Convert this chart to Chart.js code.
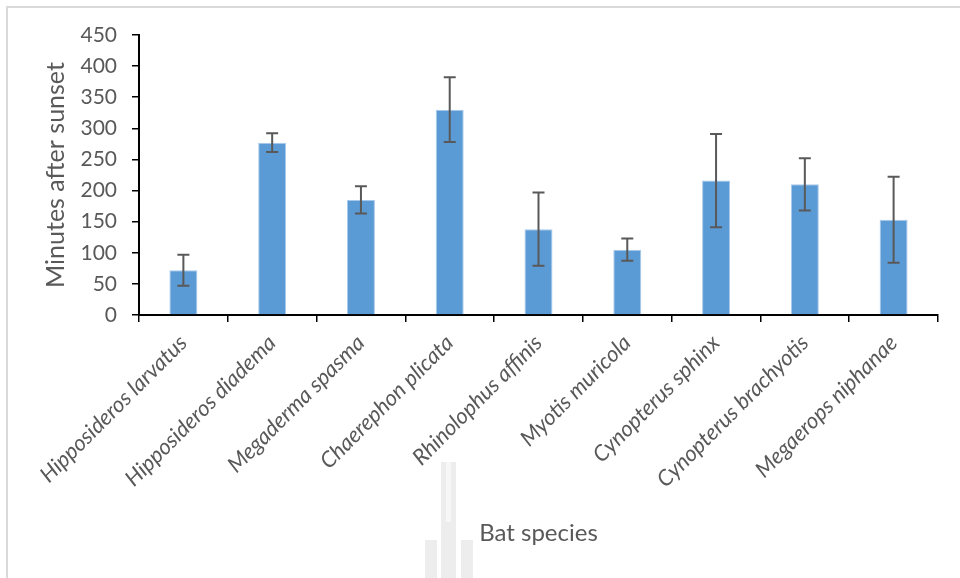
<!DOCTYPE html>
<html>
<head>
<meta charset="utf-8">
<script src="https://cdn.jsdelivr.net/npm/chart.js@4"></script>
<style>
  html, body { margin: 0; padding: 0; background: #fff; }
  #wrap { position: relative; width: 960px; height: 578px; overflow: hidden; }
  #frame { position: absolute; left: 6px; top: 6px; right: 0; bottom: 0;
           border-top: 2px solid #dadada; border-left: 2px solid #dadada; }
  .wm { position: absolute; background: #ededed; }
  canvas { position: absolute; left: 0; top: 0; }
</style>
</head>
<body>
<div id="wrap">
  <div id="frame"></div>
  <!-- faint watermark behind the chart -->
  <div class="wm" style="left:441px;top:462px;width:15px;height:116px;"></div>
  <div class="wm" style="left:446px;top:462px;width:5px;height:60px;background:#f7f7f7;"></div>
  <div class="wm" style="left:425px;top:540px;width:12px;height:38px;"></div>
  <div class="wm" style="left:461px;top:540px;width:12px;height:38px;"></div>
  <canvas id="barChart" width="960" height="578"></canvas>
</div>
<script>
const species = [
  "Hipposideros larvatus", "Hipposideros diadema", "Megaderma spasma",
  "Chaerephon plicata", "Rhinolophus affinis", "Myotis muricola",
  "Cynopterus sphinx", "Cynopterus brachyotis", "Megaerops niphanae"
];
const meanMinutes = [72, 277, 185, 330, 138, 105, 216, 210, 153];
const errMinutes = [25, 15, 22, 52, 59, 18, 75, 42, 69];

const textColor = "#595959";

// error bars drawn from the same scale as the bars
const errorBars = {
  id: "errorBars",
  afterDatasetsDraw(chart) {
    const ctx = chart.ctx;
    const y = chart.scales.y;
    const meta = chart.getDatasetMeta(0);
    ctx.save();
    ctx.strokeStyle = "#595959";
    ctx.lineWidth = 2;
    meta.data.forEach(function (bar, i) {
      const x = bar.x;
      const top = y.getPixelForValue(meanMinutes[i] + errMinutes[i]);
      const bot = y.getPixelForValue(meanMinutes[i] - errMinutes[i]);
      ctx.beginPath();
      ctx.moveTo(x, top); ctx.lineTo(x, bot);
      ctx.moveTo(x - 6, top); ctx.lineTo(x + 6, top);
      ctx.moveTo(x - 6, bot); ctx.lineTo(x + 6, bot);
      ctx.stroke();
    });
    ctx.restore();
  }
};

new Chart(document.getElementById("barChart"), {
  type: "bar",
  data: {
    labels: species,
    datasets: [{
      data: meanMinutes,
      backgroundColor: "#5b9bd5",
      borderColor: "#a9c9ea",
      borderWidth: { left: 1, right: 1, top: 1, bottom: 0 },
      barPercentage: 0.315,
      categoryPercentage: 1
    }]
  },
  options: {
    responsive: false,
    animation: false,
    layout: { padding: { left: 41, right: 22, top: 35, bottom: 27 } },
    plugins: { legend: { display: false }, tooltip: { enabled: false } },
    scales: {
      x: {
        grid: { offset: true, drawOnChartArea: false, drawTicks: true, tickLength: 7,
                color: "#000", lineWidth: 1.5 },
        border: { display: true, color: "#000", width: 2 },
        ticks: {
          color: textColor, maxRotation: 45, minRotation: 45, padding: 8,
          font: { family: "Lato", size: 22, style: "italic" }
        },
        title: {
          display: true, text: "Bat species", color: textColor,
          font: { family: "Lato", size: 24 }, padding: { top: 0, bottom: 3 }
        },
        afterFit(scale) { scale.height = 578 - 27 - 315; }
      },
      y: {
        min: 0, max: 450,
        grid: { drawOnChartArea: false, drawTicks: true, tickLength: 7,
                color: "#000", lineWidth: 1.5 },
        border: { display: true, color: "#000", width: 2 },
        ticks: {
          stepSize: 50, color: textColor, padding: 15,
          font: { family: "Lato", size: 21 }
        },
        title: {
          display: true, text: "Minutes after sunset", color: textColor,
          font: { family: "Lato", size: 25 }, padding: { top: 0, bottom: 4 }
        },
        afterFit(scale) { scale.width = 139 - 41; }
      }
    }
  },
  plugins: [errorBars]
});
</script>
</body>
</html>
